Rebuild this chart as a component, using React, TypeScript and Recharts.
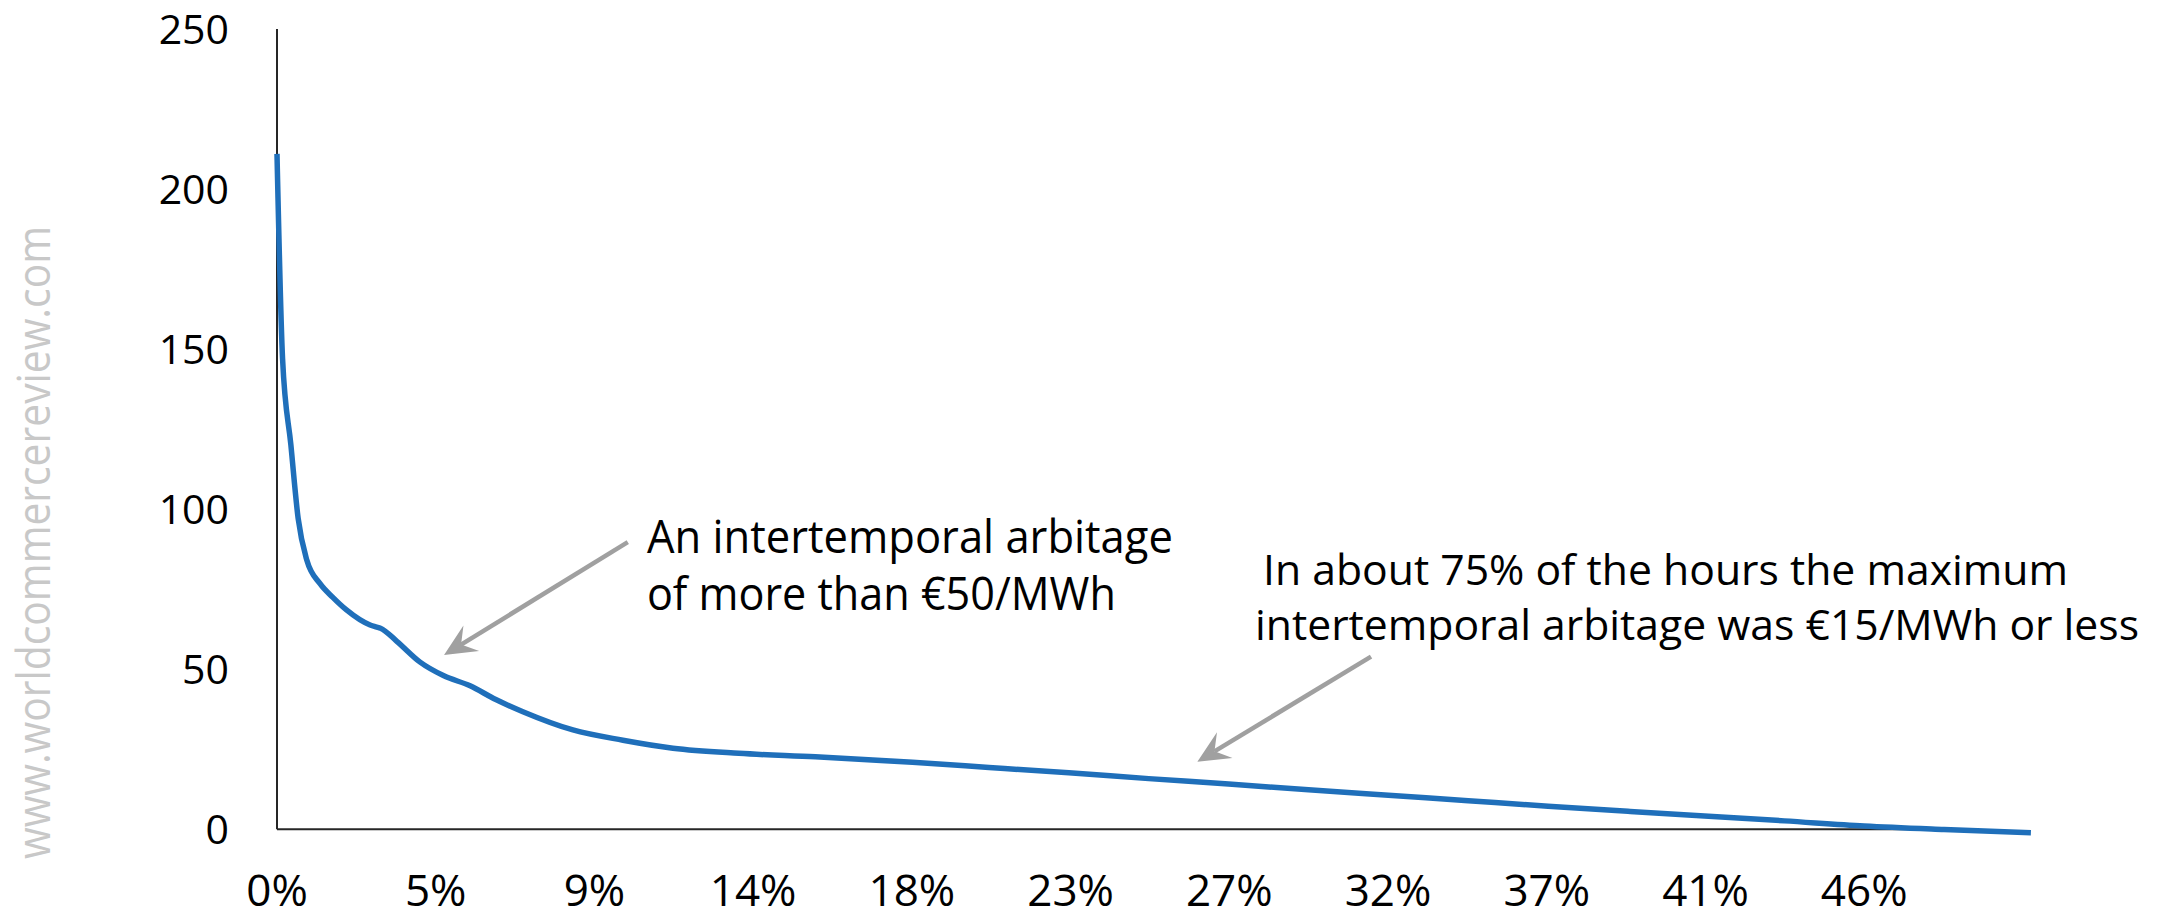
import React from "react";
import { LineChart, Line, XAxis, YAxis, ReferenceLine, ReferenceDot } from "recharts";

// share of hours (%), sorted duration curve
const hourShare = [
  0, 0.16, 0.4, 0.61, 0.86, 1.24, 1.6, 2.0, 2.68, 2.85, 2.98, 3.45, 4.12, 4.79, 5.56, 6.3, 7.08,
  8.52, 9.96, 11.4, 13.3, 15.5, 18.3, 20.5, 22.8, 25.1, 27.4, 29.7, 32.0, 34.3, 36.6, 38.9, 41.1,
  43.4, 45.7, 48.0, 50.5,
];
// max intertemporal arbitrage, EUR/MWh
const arbitrage = [
  211, 147, 120, 97, 84, 76.7, 72.5, 68.5, 63.8, 63.2, 62.8, 58.7, 52.2, 48, 44.8, 40.5, 36.7,
  31, 27.8, 25.3, 23.7, 22.6, 20.9, 19.3, 17.6, 15.8, 14.1, 12.3, 10.6, 8.9, 7.2, 5.6, 4.1,
  2.6, 1.0, -0.1, -1.1,
];

const xTickValues = [0, 4.57, 9.14, 13.71, 18.28, 22.85, 27.42, 31.99, 36.56, 41.13, 45.7];
const xTickLabels = ["0%", "5%", "9%", "14%", "18%", "23%", "27%", "32%", "37%", "41%", "46%"];
const yTicks = [0, 50, 100, 150, 200, 250];
const xAxisEnd = 47.3;

const noteHigh = ["An intertemporal arbitage", "of more than €50/MWh"];
const noteLow = ["In about 75% of the hours the maximum", "intertemporal arbitage was €15/MWh or less"];
// arrows: tail then tip, in data units
const arrowHigh = [{ x: 10.1, y: 89.7 }, { x: 4.81, y: 54.4 }];
const arrowLow = [{ x: 31.5, y: 53.9 }, { x: 26.5, y: 21.1 }];

const data = hourShare.map((pct, i) => ({ pct, value: arbitrage[i] }));

const FONT = "'Open Sans', 'Noto Sans', sans-serif";
const ARROW = "#a0a0a0";

function Arrow(props: any) {
  const { x1, y1, x2, y2 } = props;
  const dx = x2 - x1;
  const dy = y2 - y1;
  const len = Math.hypot(dx, dy) || 1;
  const ux = dx / len;
  const uy = dy / len;
  const nx = -uy;
  const ny = ux;
  const L = 32;
  const W = 15;
  const N = 20;
  const bx = x2 - ux * L;
  const by = y2 - uy * L;
  const pts = [
    [x2, y2],
    [bx + nx * W, by + ny * W],
    [x2 - ux * N, y2 - uy * N],
    [bx - nx * W, by - ny * W],
  ]
    .map((p) => p.join(","))
    .join(" ");
  return (
    <g>
      <line x1={x1} y1={y1} x2={x2 - ux * N} y2={y2 - uy * N} stroke={ARROW} strokeWidth={4.5} />
      <polygon points={pts} fill={ARROW} />
    </g>
  );
}

function Note({ x, y, lines, widths, offsets, gap, size }: any) {
  return (
    <g>
      {lines.map((t: string, i: number) => (
        <text
          key={i}
          x={x + offsets[i]}
          y={y + i * gap}
          fontFamily={FONT}
          fontSize={size}
          fill="#000"
          textLength={widths[i]}
          lengthAdjust="spacingAndGlyphs"
        >
          {t}
        </text>
      ))}
    </g>
  );
}

export default function App() {
  return (
    <div style={{ position: "absolute", left: 0, top: 0, width: 2163, height: 919, background: "#fff" }}>
      <LineChart
        width={2163}
        height={919}
        data={data}
        margin={{ top: 29, right: 80, bottom: 0, left: 0 }}
      >
        <XAxis
          dataKey="pct"
          type="number"
          domain={[0, 52]}
          ticks={xTickValues}
          interval={0}
          tickFormatter={(v: number) => xTickLabels[xTickValues.indexOf(v)]}
          axisLine={false}
          tickLine={false}
          tickSize={0}
          tickMargin={41}
          height={85}
          tick={{ fill: "#000", fontSize: 44, fontFamily: FONT }}
        />
        <YAxis
          type="number"
          domain={[-1.5, 250]}
          ticks={yTicks}
          interval={0}
          axisLine={false}
          tickLine={false}
          tickSize={0}
          tickMargin={48}
          width={277}
          tick={{ fill: "#000", fontSize: 41, fontFamily: FONT }}
        />
        <ReferenceLine segment={[{ x: 0, y: 0 }, { x: 0, y: 250 }]} stroke="#262626" strokeWidth={2} />
        <ReferenceLine segment={[{ x: 0, y: 0 }, { x: xAxisEnd, y: 0 }]} stroke="#262626" strokeWidth={2} />
        <ReferenceLine segment={arrowHigh} shape={Arrow} />
        <ReferenceLine segment={arrowLow} shape={Arrow} />
        <ReferenceDot
          x={10.65}
          y={86.3}
          shape={(p: any) => (
            <Note x={p.cx} y={p.cy} lines={noteHigh} widths={[526, 469]} offsets={[0, 0]} gap={57} size={45} />
          )}
        />
        <ReferenceDot
          x={28.16}
          y={76.25}
          shape={(p: any) => (
            <Note x={p.cx} y={p.cy} lines={noteLow} widths={[805, 884]} offsets={[8, 0]} gap={55} size={42} />
          )}
        />
        <Line
          type="monotone"
          dataKey="value"
          stroke="#1f6fba"
          strokeWidth={5.5}
          dot={false}
          activeDot={false}
          isAnimationActive={false}
        />
      </LineChart>
      <svg
        width={2163}
        height={919}
        style={{ position: "absolute", left: 0, top: 0, pointerEvents: "none" }}
      >
        <text
          transform="translate(50,859) rotate(-90)"
          fontFamily={FONT}
          fontSize={46}
          fill="#c8c8c8"
          textLength={633}
          lengthAdjust="spacingAndGlyphs"
        >
          www.worldcommercereview.com
        </text>
      </svg>
    </div>
  );
}
